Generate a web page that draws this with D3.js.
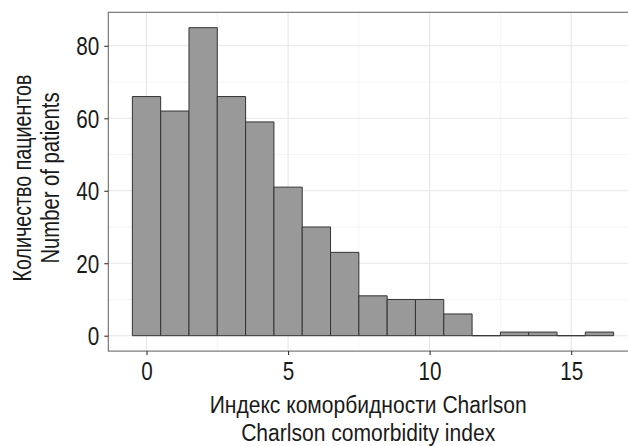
<!DOCTYPE html>
<html>
<head>
<meta charset="utf-8">
<script src="https://cdn.jsdelivr.net/npm/d3@7"></script>
<style>
  body { margin: 0; background: #fff; }
  svg { display: block; }
  .tick text { font-family: "Liberation Sans", Arial, sans-serif; fill: #1a1a1a; }
</style>
</head>
<body>
<div id="chart"></div>
<script>
var svgWidth = 628;
var svgHeight = 446;

// histogram of Charlson index, bins of width 1 centred on integers
var binCenters = [0, 1, 2, 3, 4, 5, 6, 7, 8, 9, 10, 11, 12, 13, 14, 15, 16];
var patientCounts = [66, 62, 85, 66, 59, 41, 30, 23, 11, 10, 10, 6, 0, 1, 1, 0, 1];
var xTicks = [0, 5, 10, 15];
var xMinor = [2.5, 7.5, 12.5, 17.5];
var yTicks = [0, 20, 40, 60, 80];
var yMinor = [10, 30, 50, 70];

var xTitle = ["Индекс коморбидности Charlson", "Charlson comorbidity index"];
var xTitleWidths = [317, 254];
var yTitle = ["Количество пациентов", "Number of patients"];
var yTitleWidths = [207, 171];

var panel = { left: 108.3, top: 12.3, right: 637.7, bottom: 351.1 };

var svg = d3.select("#chart")
    .append("svg")
    .attr("width", svgWidth)
    .attr("height", svgHeight);

var xScale = d3.scaleLinear()
    .domain([-1.35, 17.35])
    .range([panel.left, panel.right]);

var yScale = d3.scaleLinear()
    .domain([-4.25, 89.25])
    .range([panel.bottom, panel.top]);

var grid = svg.append("g");

grid.selectAll(".minor-y")
    .data(yMinor)
    .enter()
    .append("line")
    .attr("x1", panel.left).attr("x2", panel.right)
    .attr("y1", d => yScale(d)).attr("y2", d => yScale(d))
    .attr("stroke", "#f3f3f3").attr("stroke-width", 0.8);

grid.selectAll(".minor-x")
    .data(xMinor)
    .enter()
    .append("line")
    .attr("y1", panel.top).attr("y2", panel.bottom)
    .attr("x1", d => xScale(d)).attr("x2", d => xScale(d))
    .attr("stroke", "#f3f3f3").attr("stroke-width", 0.8);

grid.selectAll(".major-y")
    .data(yTicks)
    .enter()
    .append("line")
    .attr("x1", panel.left).attr("x2", panel.right)
    .attr("y1", d => yScale(d)).attr("y2", d => yScale(d))
    .attr("stroke", "#e6e6e6").attr("stroke-width", 1.1);

grid.selectAll(".major-x")
    .data(xTicks)
    .enter()
    .append("line")
    .attr("y1", panel.top).attr("y2", panel.bottom)
    .attr("x1", d => xScale(d)).attr("x2", d => xScale(d))
    .attr("stroke", "#e6e6e6").attr("stroke-width", 1.1);

// bars as closed paths so that empty bins still show as a flat line
svg.append("g").selectAll("path")
    .data(binCenters)
    .enter()
    .append("path")
    .attr("d", function (d, i) {
        var x0 = xScale(d - 0.5), x1 = xScale(d + 0.5);
        var y0 = yScale(0), y1 = yScale(patientCounts[i]);
        return `M${x0},${y0}L${x0},${y1}L${x1},${y1}L${x1},${y0}Z`;
    })
    .attr("fill", "#999999")
    .attr("stroke", "#333333")
    .attr("stroke-width", 1);

// panel border
svg.append("rect")
    .attr("x", panel.left)
    .attr("y", panel.top)
    .attr("width", panel.right - panel.left)
    .attr("height", panel.bottom - panel.top)
    .attr("fill", "none")
    .attr("stroke", "#6b6b6b")
    .attr("stroke-width", 1.1);

var bottomAxis = d3.axisBottom(xScale)
    .tickValues(xTicks)
    .tickSize(4)
    .tickPadding(7);

var leftAxis = d3.axisLeft(yScale)
    .tickValues(yTicks)
    .tickSize(4)
    .tickPadding(5);

var xAxis = svg.append("g")
    .attr("transform", `translate(0, ${panel.bottom})`)
    .call(bottomAxis);

var yAxis = svg.append("g")
    .attr("transform", `translate(${panel.left}, 0)`)
    .call(leftAxis);

// narrow the tick digits to look like the condensed face of the original
[xAxis, yAxis].forEach(function (ax) {
    ax.select(".domain").remove();
    ax.selectAll(".tick line").attr("stroke", "#333333").attr("stroke-width", 1.1);
    ax.selectAll(".tick text")
        .attr("font-size", 25)
        .attr("textLength", d => String(d).length * 11.5)
        .attr("lengthAdjust", "spacingAndGlyphs");
});
yAxis.selectAll(".tick text").attr("dy", "0.36em");

var xLabel = svg.append("g")
    .attr("transform", `translate(${(panel.left + 628) / 2}, 0)`);

xLabel.selectAll("text")
    .data(xTitle)
    .enter()
    .append("text")
    .attr("x", 0)
    .attr("y", (d, i) => 413 + i * 28)
    .attr("text-anchor", "middle")
    .attr("font-family", "Liberation Sans, Arial, sans-serif")
    .attr("font-size", 23)
    .attr("textLength", (d, i) => xTitleWidths[i])
    .attr("lengthAdjust", "spacingAndGlyphs")
    .attr("fill", "#1a1a1a")
    .text(d => d);

var yLabel = svg.append("g")
    .attr("transform", "rotate(-90)");

yLabel.selectAll("text")
    .data(yTitle)
    .enter()
    .append("text")
    .attr("x", -178)
    .attr("y", (d, i) => 31 + i * 28)
    .attr("text-anchor", "middle")
    .attr("font-family", "Liberation Sans, Arial, sans-serif")
    .attr("font-size", 25)
    .attr("textLength", (d, i) => yTitleWidths[i])
    .attr("lengthAdjust", "spacingAndGlyphs")
    .attr("fill", "#1a1a1a")
    .text(d => d);
</script>
</body>
</html>
